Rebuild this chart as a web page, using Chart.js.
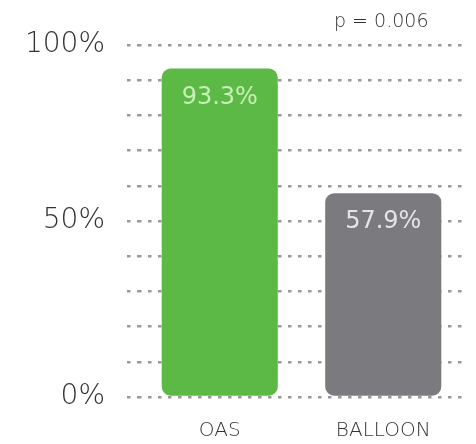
<!DOCTYPE html>
<html>
<head>
<meta charset="utf-8">
<script src="https://cdn.jsdelivr.net/npm/chart.js@4/dist/chart.umd.min.js"></script>
<style>
  body { margin: 0; background: #fff; }
  canvas { display: block; }
</style>
</head>
<body>
<canvas id="outcome-chart" width="476" height="444"></canvas>
<script>
const categories = ['OAS', 'BALLOON'];
const successRates = [93.3, 57.9];
const barColors = ['#5cb946', '#7b7a7f'];
const valueColors = ['#c9efb8', '#e4e4e6'];
const yTickLabels = [0, 50, 100];
const pValueText = 'p = 0.006';

const fontFamily = "'DejaVu Sans', sans-serif";
const axisWeight = 200;

// value labels inside the bars + p-value above the second bar
const annotations = {
    id: 'annotations',
    afterDatasetsDraw(chart) {
        const ctx = chart.ctx;
        const meta = chart.getDatasetMeta(0);
        ctx.save();
        ctx.textAlign = 'center';
        ctx.textBaseline = 'middle';
        ctx.font = 'normal 24px ' + fontFamily;
        meta.data.forEach((bar, i) => {
            ctx.fillStyle = valueColors[i];
            ctx.fillText(successRates[i].toFixed(1) + '%', bar.x, bar.y + 29);
        });
        ctx.font = axisWeight + ' 19px ' + fontFamily;
        ctx.fillStyle = '#333';
        const xScale = chart.scales.x;
        ctx.fillText(pValueText, xScale.getPixelForValue(1) - 2, chart.chartArea.top - 23);
        ctx.restore();
    }
};

let canvasElement = document.getElementById('outcome-chart').getContext('2d');

const outcomeChart = new Chart(canvasElement, {
    type: 'bar',
    data: {
        labels: categories,
        datasets: [{
            data: successRates,
            backgroundColor: barColors,
            borderRadius: 9,
            borderSkipped: false,
            barPercentage: 0.71,
            categoryPercentage: 1
        }]
    },
    options: {
        responsive: false,
        animation: false,
        layout: { padding: { top: 45, right: 11, left: 0, bottom: 0 } },
        plugins: {
            legend: { display: false },
            tooltip: { enabled: false }
        },
        scales: {
            x: {
                grid: { display: false, drawTicks: false },
                border: { display: false },
                ticks: {
                    padding: 22,
                    color: '#333',
                    font: { family: fontFamily, size: 20, weight: axisWeight }
                },
                afterFit: s => { s.height = 47; }
            },
            y: {
                min: 0,
                max: 100,
                border: { display: false, dash: [3.5, 6.5] },
                grid: {
                    color: '#999',
                    lineWidth: 2.5,
                    drawTicks: true,
                    tickLength: 11,
                    tickColor: '#999',
                    tickWidth: 2.5,
                    tickBorderDash: [3.5, 6.5]
                },
                ticks: {
                    stepSize: 10,
                    autoSkip: false,
                    padding: 22,
                    color: '#333',
                    font: { family: fontFamily, size: 28, weight: axisWeight },
                    callback: v => yTickLabels.includes(v) ? v + '%' : ''
                },
                afterFit: s => { s.width = 138; }
            }
        }
    },
    plugins: [annotations]
});
</script>
</body>
</html>
